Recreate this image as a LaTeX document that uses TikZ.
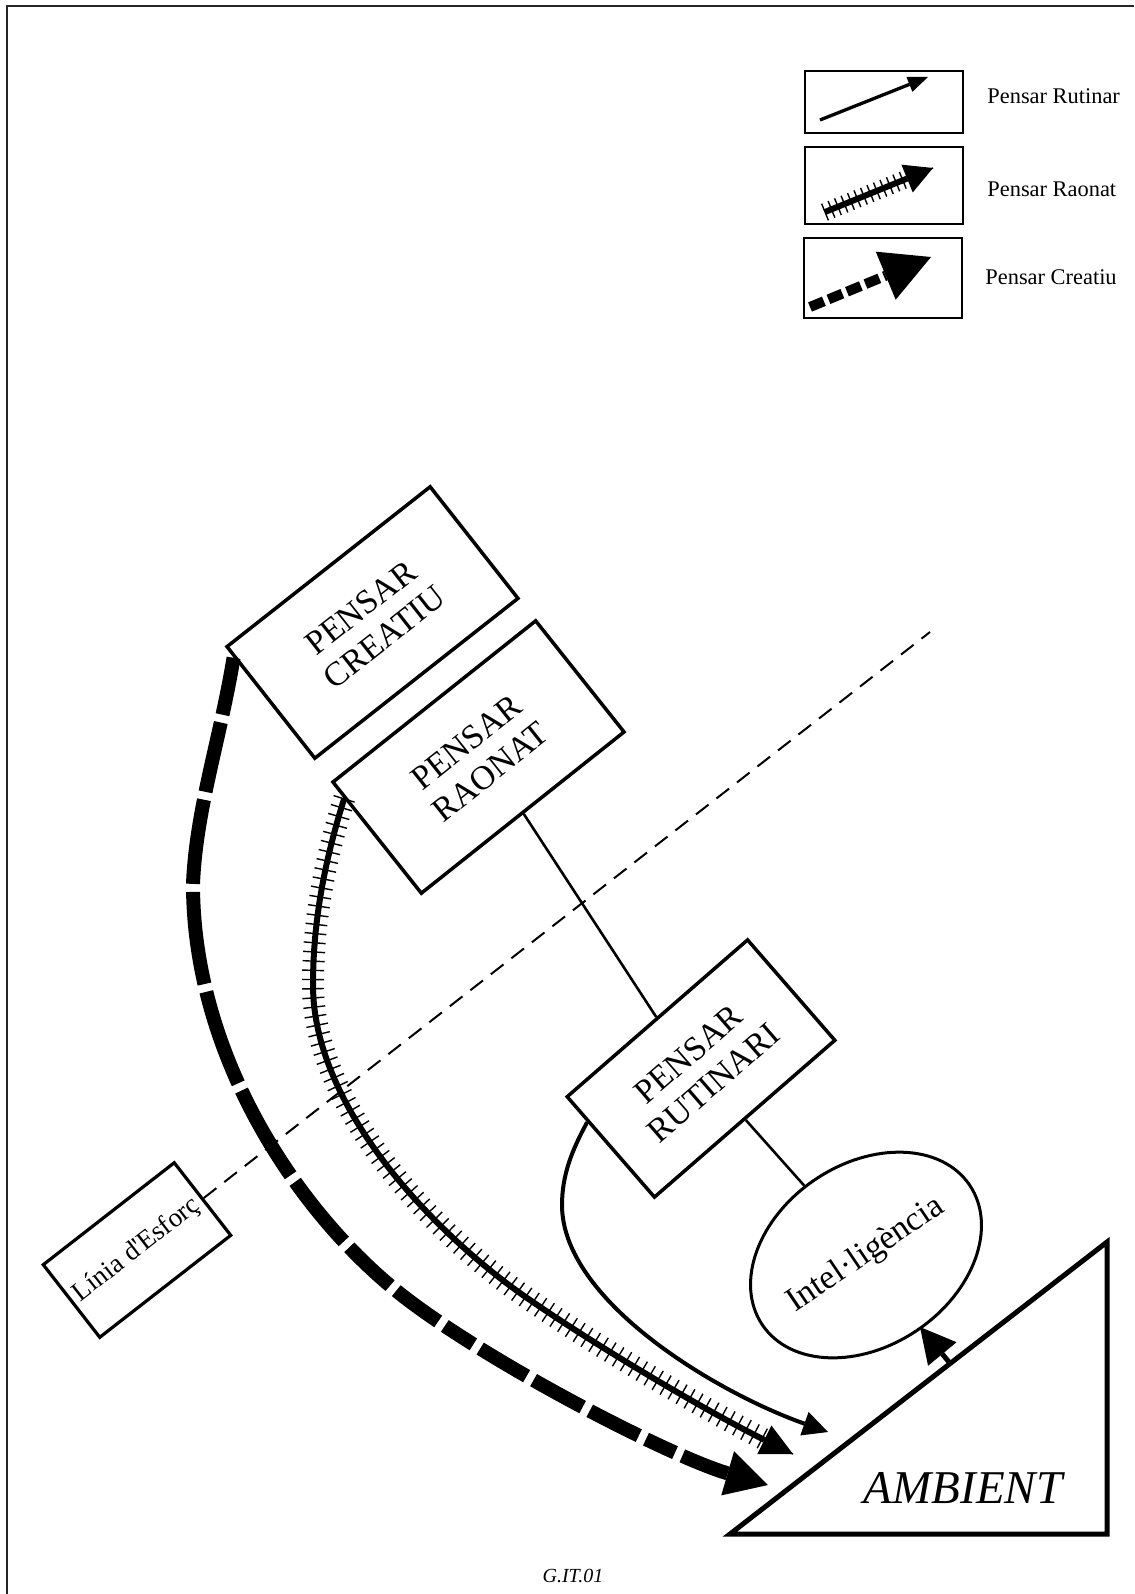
\documentclass[tikz,border=0pt]{standalone}
\usepackage{fontspec}
\setmainfont{Liberation Serif}
\usetikzlibrary{arrows.meta,decorations.pathreplacing,calc,shapes.geometric}
\begin{document}
\begin{tikzpicture}[x=0.5pt,y=-0.5pt,line cap=butt,line join=miter,
  bigbox/.style={draw,line width=1.75pt,align=center,inner sep=0pt,font=\fontsize{17}{19}\selectfont},
  legbox/.style={draw,line width=1.4pt,inner sep=0pt,minimum width=79pt},
  legtext/.style={anchor=base west,inner sep=0pt,font=\fontsize{11.2}{13}\selectfont},
  conn/.style={line width=1.3pt},
  effort/.style={line width=1pt,dash pattern=on 8pt off 5pt},
  rutarr/.style={line width=2pt,-{Triangle[length=12.5pt,width=12.5pt,line width=0pt]}},
  raoline/.style={line width=3pt,-{Triangle[length=16pt,width=16pt,line width=0pt]}},
  raoticks/.style={line width=0.7pt,decorate,decoration={ticks,segment length=4.6pt,amplitude=5.5pt,post length=17pt}},
  crearr/.style={line width=7pt,-{Triangle[length=21pt,width=23pt,line width=0pt]},
    dash pattern=on 29pt off 4pt on 35.5pt off 4pt on 42.5pt off 4pt on 46.5pt off 4pt on 48.5pt off 4pt on 49pt off 4pt on 38.5pt off 4pt on 28pt off 4pt on 26pt off 4pt on 17pt off 4pt on 27pt off 4pt on 28pt off 4pt on 27.5pt off 4pt on 16pt off 4pt on 150pt off 4pt},
  tri/.style={line width=2.5pt},
  frame/.style={line width=1.1pt,black!85},
]
\useasboundingbox (0,0) rectangle (1134,1594);
% page frame
\draw[frame] (7,1594) -- (7,6) -- (1134,6);

% legend
\node[legbox,minimum height=31pt] (lg1) at (884,102) {};
\node[legbox,minimum height=38.5pt] (lg2) at (884,185.5) {};
\node[legbox,minimum height=40pt] (lg3) at (883,278) {};
\node[legtext] (lt1) at (987,104) {Pensar Rutinar};
\node[legtext] (lt2) at (987,197) {Pensar Raonat};
\node[legtext] (lt3) at (985,285) {Pensar Creatiu};
\coordinate (l1a) at (820,120); \coordinate (l1b) at (928,77);
\coordinate (l2a) at (825,212); \coordinate (l2b) at (933,168);
\coordinate (l3a) at (810,307); \coordinate (l3b) at (931,257);
\draw[line width=1.65pt,-{Triangle[length=10pt,width=8pt,line width=0pt]}] (l1a) -- (l1b);
\draw[line width=0.7pt,decorate,decoration={ticks,segment length=3.5pt,amplitude=4.5pt,post length=14pt}] (l2a) -- (l2b);
\draw[line width=3pt,-{Triangle[length=14pt,width=15pt,line width=0pt]}] (l2a) -- (l2b);
\draw[line width=5pt,dash pattern=on 7.5pt off 2.5pt,-{Triangle[length=24.5pt,width=26pt,line width=0pt]}] (l3a) -- (l3b);

% boxes
\node[bigbox,minimum width=129.25pt,minimum height=71pt,rotate=38.2] (cre) at (372.5,622.5) {PENSAR\\CREATIU};
\node[bigbox,minimum width=129.5pt,minimum height=71pt,rotate=38.5] (rao) at (478.5,757) {PENSAR\\RAONAT};
\node[bigbox,minimum width=119.5pt,minimum height=66.5pt,rotate=41] (rut) at (701,1068.5) {PENSAR\\RUTINARI};
\node[draw,line width=1.5pt,ellipse,minimum width=125pt,minimum height=91pt,inner sep=-4pt,rotate=34,
      font=\fontsize{17}{17}\selectfont] (intl) at (866,1255) {Intel·ligència};
\node[draw,line width=1.6pt,minimum width=83pt,minimum height=46pt,inner sep=0pt,rotate=37.9,
      font=\fontsize{13.5}{14}\selectfont] (lin) at (137,1250) {Línia d\textquotesingle Esforç};

% connectors
\draw[conn] (rao.south) -- (rut.north);
\draw[conn] (rut.south) -- (intl);

% effort line
\coordinate (le) at (930,632);
\draw[effort] (lin.east) -- (le);

% ambient triangle
\coordinate (tA) at (1107,1242);
\coordinate (tB) at (730,1534);
\coordinate (tC) at (1107,1534);
\draw[tri] (tA) -- (tB) -- (tC) -- cycle;
\node[anchor=base,inner sep=0pt,font=\itshape\fontsize{23.5}{25}\selectfont] (amb) at (963,1503) {AMBIENT};
\coordinate (ia) at ($(tB)!0.584!(tA)$);
\coordinate (ib) at (920,1327);
\draw[line width=2.5pt,-{Triangle[length=17.5pt,width=18.5pt,line width=0pt]}] (ia) -- (ib);

% curved arrows
\coordinate (cs) at ($(cre.north west)!0.1!(cre.south west)$);
\coordinate (ce) at (768,1485);
\draw[crearr] (cs) .. controls (220,740) and (196,810) .. (193,884)
  .. controls (193,1050) and (290,1200) .. (387,1283)
  .. controls (467,1352) and (668,1456) .. (ce);

\coordinate (rs) at ($(rao.north west)!0.15!(rao.south west)$);
\coordinate (re) at (793,1454);
\draw[raoticks] (rs) .. controls (325,860) and (313,920) .. (313,985)
  .. controls (313,1110) and (439,1238) .. (530,1300)
  .. controls (604,1351) and (712,1414) .. (re);
\draw[raoline] (rs) .. controls (325,860) and (313,920) .. (313,985)
  .. controls (313,1110) and (439,1238) .. (530,1300)
  .. controls (604,1351) and (712,1414) .. (re);

\coordinate (us) at ($(rut.north west)!0.25!(rut.south west)$);
\coordinate (ue) at (828,1432);
\draw[rutarr] (us) .. controls (572,1150) and (562,1175) .. (562,1205)
  .. controls (562,1300) and (715,1392) .. (ue);

\node[font=\itshape\fontsize{10}{12}\selectfont] (code) at (573,1576) {G.IT.01};
\end{tikzpicture}
\end{document}
